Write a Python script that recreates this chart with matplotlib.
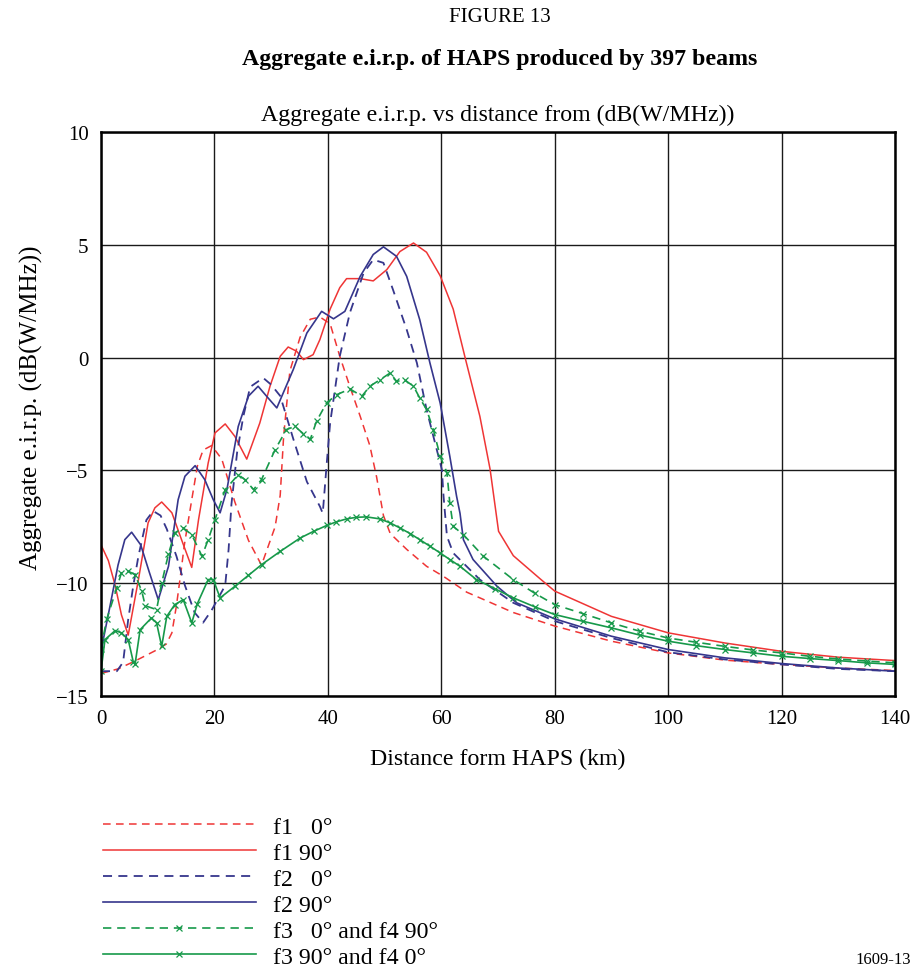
import numpy as np
import matplotlib
matplotlib.use("Agg")
import matplotlib.pyplot as plt

plt.rcParams['font.family'] = ['Liberation Serif', 'DejaVu Serif']

# ---- data (distance km, e.i.r.p. dB(W/MHz)) ----
f1_0_x = [0, 3, 6, 9.5, 11.5, 12.5, 13.3, 14.1, 14.7, 16.0, 17.0, 18.0, 19.5, 21.3, 23.6,
          26.0, 28.3, 30.7, 31.6, 32.2, 33.3, 35.1, 36.9, 38.6, 40.4, 42.1, 43.9, 45.7,
          47.4, 48.6, 49.8, 51.0, 53.9, 57.4, 60.4, 64.5, 66.8, 72.7, 80, 90, 100, 110,
          120, 130, 140]
f1_0_y = [-14.0, -13.8, -13.45, -13.0, -12.7, -12.2, -11.0, -9.5, -8.3, -6.3, -4.8, -4.1,
          -3.9, -4.5, -6.4, -8.1, -9.2, -7.5, -6.1, -3.5, -0.6, 0.9, 1.7, 1.8, 1.5, 0.06,
          -1.3, -2.6, -3.9, -5.3, -7.0, -7.8, -8.5, -9.25, -9.7, -10.4, -10.65, -11.3,
          -11.9, -12.57, -13.09, -13.41, -13.6, -13.76, -13.87]

f1_90_x = [0, 1.3, 2.5, 3.6, 4.8, 6.6, 8.3, 9.5, 10.7, 12.5, 14.2, 16.0, 17.2, 18.9, 20.1,
           21.9, 23.6, 25.7, 28.0, 29.8, 31.6, 33.0, 34.5, 35.7, 37.4, 38.6, 40.4, 42.1,
           43.3, 45.7, 48.0, 50.4, 52.7, 55.1, 57.4, 59.8, 62.1, 64.2, 66.8, 68.6, 70.1,
           72.7, 77.4, 80, 90, 100, 110, 120, 130, 140]
f1_90_y = [-8.3, -9.0, -10.1, -11.4, -12.3, -9.84, -7.33, -6.66, -6.4, -6.88, -8.07, -9.3,
           -7.18, -4.67, -3.34, -2.94, -3.49, -4.5, -2.9, -1.27, 0.06, 0.47, 0.28, -0.09,
           0.13, 0.8, 2.15, 3.1, 3.5, 3.5, 3.4, 3.9, 4.7, 5.08, 4.67, 3.63, 2.15, 0.0,
           -2.6, -4.94, -7.7, -8.78, -9.8, -10.35, -11.47, -12.2, -12.65, -13.02, -13.28,
           -13.43]

f2_0_x = [0, 2.8, 3.9, 4.8, 5.7, 6.6, 8.0, 9.2, 10.5, 11.6, 13.3, 14.8, 16.5, 18.0, 19.5,
          21.9, 22.5, 23.0, 24.0, 25.1, 26.3, 28.6, 30.0, 31.6, 33.9, 36.3, 38.6, 39.1,
          39.8, 40.4, 42.1, 43.9, 46.3, 48.0, 49.8, 51.5, 53.9, 55.7, 57.4, 59.2, 60.1,
          60.4, 61.0, 62.1, 66.8, 72.7, 80, 90, 100, 110, 120, 130, 140]
f2_0_y = [-13.9, -13.9, -13.5, -11.6, -10.1, -8.8, -7.2, -6.8, -7.0, -7.6, -8.8, -10.1,
          -11.3, -11.75, -11.2, -10.1, -8.5, -6.5, -4.2, -2.6, -1.3, -0.9, -1.2, -1.7,
          -3.6, -5.5, -6.6, -6.9, -4.7, -2.9, 0.06, 2.0, 3.75, 4.34, 4.2, 3.0, 1.24,
          -0.24, -2.3, -4.08, -4.96, -6.15, -7.92, -8.66, -9.84, -10.87, -11.68, -12.43,
          -13.06, -13.38, -13.6, -13.8, -13.9]

f2_90_x = [0, 0.4, 1.6, 3.0, 4.2, 5.4, 7.0, 8.5, 10.1, 11.9, 13.6, 14.8, 16.6, 18.3, 19.8,
           21.0, 22.2, 24.2, 26.0, 27.7, 29.5, 31.0, 33.9, 36.3, 38.9, 41.0, 43.0, 45.7,
           48.0, 49.8, 52.1, 53.9, 56.2, 58.0, 59.8, 61.5, 62.7, 63.3, 63.9, 65.6, 69.8,
           73.3, 80, 90, 100, 110, 120, 130, 140]
f2_90_y = [-13.3, -12.5, -11.0, -9.2, -8.07, -7.74, -8.3, -9.5, -10.73, -9.25, -6.3, -5.26,
           -4.79, -5.41, -6.3, -6.88, -5.85, -3.05, -1.71, -1.27, -1.8, -2.23, -0.53, 1.09,
           2.05, 1.72, 2.05, 3.6, 4.57, 4.91, 4.49, 3.6, 1.68, -0.24, -2.01, -4.37, -6.15,
           -6.9, -8.07, -8.95, -10.13, -10.87, -11.58, -12.35, -12.94, -13.31, -13.56,
           -13.76, -13.9]

f3_0_x = [0, 1.0, 2.8, 3.6, 4.8, 6.0, 7.2, 7.8, 9.8, 10.7, 11.9, 13.0, 14.5, 16.0, 17.8,
          18.9, 20.1, 21.9, 24.2, 25.4, 26.9, 28.3, 30.7, 32.7, 34.2, 35.7, 36.9, 38.0,
          39.8, 41.6, 43.9, 46.0, 47.4, 49.2, 51.0, 52.1, 53.6, 55.1, 56.2, 57.4, 58.6,
          59.8, 61.0, 61.5, 62.1, 63.9, 67.4, 72.7, 76.5, 80, 85, 90, 95, 100, 105, 110,
          115, 120, 125, 130, 135, 140]
f3_0_y = [-12.9, -11.6, -10.2, -9.54, -9.47, -9.62, -10.36, -11.0, -11.17, -10.0, -8.7,
          -7.77, -7.55, -7.85, -8.8, -8.07, -7.18, -5.85, -5.19, -5.41, -5.85, -5.41,
          -4.08, -3.19, -3.05, -3.38, -3.63, -2.82, -2.0, -1.64, -1.39, -1.71, -1.27,
          -0.98, -0.68, -1.05, -1.0, -1.27, -1.79, -2.3, -3.19, -4.37, -5.1, -6.44,
          -7.48, -7.85, -8.8, -9.84, -10.45, -10.95, -11.35, -11.76, -12.13, -12.43,
          -12.62, -12.8, -12.96, -13.09, -13.24, -13.36, -13.45, -13.53]

f3_90_x = [0, 0.7, 2.5, 3.6, 4.8, 5.7, 6.0, 6.9, 8.9, 9.8, 10.7, 11.6, 13.0, 14.5, 16.0,
           17.0, 18.9, 19.8, 21.0, 23.6, 26.0, 28.3, 31.6, 35.1, 37.5, 39.8, 41.5, 43.3,
           45.0, 46.8, 49.2, 51.0, 52.7, 54.5, 56.2, 58.0, 59.8, 61.5, 63.3, 66.2, 69.5,
           72.7, 76.5, 80, 85, 90, 95, 100, 105, 110, 115, 120, 125, 130, 135, 140]
f3_90_y = [-13.9, -12.5, -12.1, -12.2, -12.5, -13.5, -13.6, -12.06, -11.54, -11.76, -12.8,
           -11.47, -10.95, -10.73, -11.76, -10.9, -9.84, -9.84, -10.65, -10.14, -9.65,
           -9.18, -8.59, -8.0, -7.7, -7.44, -7.28, -7.15, -7.08, -7.06, -7.15, -7.33,
           -7.55, -7.8, -8.07, -8.36, -8.66, -8.95, -9.25, -9.84, -10.25, -10.65, -11.05,
           -11.39, -11.69, -11.98, -12.3, -12.57, -12.77, -12.94, -13.09, -13.24, -13.34,
           -13.43, -13.53, -13.6]

labels = ["f1   0°", "f1 90°", "f2   0°", "f2 90°", "f3   0° and f4 90°", "f3 90° and f4 0°"]

red = '#ef3535'
blue = '#36368c'
green = '#17994a'
dash = (0, (5, 3.5))

fig = plt.figure(figsize=(9.2, 9.7), dpi=100)
ax = fig.add_axes([101 / 920, 1 - 697 / 970, 794 / 920, 564 / 970])

ax.plot(f1_0_x, f1_0_y, color=red, lw=1.1, ls=dash, label=labels[0])
ax.plot(f1_90_x, f1_90_y, color=red, lw=1.1, label=labels[1])
ax.plot(f2_0_x, f2_0_y, color=blue, lw=1.3, ls=dash, label=labels[2])
ax.plot(f2_90_x, f2_90_y, color=blue, lw=1.2, label=labels[3])
ax.plot(f3_0_x, f3_0_y, color=green, lw=1.2, ls=dash, marker='x', ms=4, mew=0.9,
        label=labels[4])
ax.plot(f3_90_x, f3_90_y, color=green, lw=1.2, marker='x', ms=4, mew=0.9,
        label=labels[5])

ax.set_xlim(0, 140)
ax.set_ylim(-15, 10)
ax.set_xticks(np.arange(0, 141, 20))
ax.set_yticks(np.arange(-15, 11, 5))
ax.grid(True, color='#1a1a1a', lw=1.0)
ax.tick_params(length=0, pad=9, labelsize=15)
for sp in ax.spines.values():
    sp.set_linewidth(1.8)

ax.set_xlabel("Distance form HAPS (km)", fontsize=17.2, labelpad=15)
ax.set_ylabel("Aggregate e.i.r.p. (dB(W/MHz))", fontsize=18)
ax.yaxis.set_label_coords(-0.073, 0.512)
ax.set_title("Aggregate e.i.r.p. vs distance from (dB(W/MHz))", fontsize=17.2, pad=8.5)

fig.text(500 / 920, 1 - 17 / 970, "FIGURE 13", ha='center', va='center', fontsize=15)
fig.text(500 / 920, 1 - 60 / 970, "Aggregate e.i.r.p. of HAPS produced by 397 beams",
         ha='center', va='center', fontsize=17.2, fontweight='bold')
fig.text(855 / 920, 2 / 970, "1609-13", ha='left', va='bottom', fontsize=12)

fig.legend(loc='upper left', bbox_to_anchor=(103 / 920, 1 - 817 / 970), frameon=False,
           fontsize=17.2, handlelength=6.4, handletextpad=0.7, labelspacing=0.18,
           borderpad=0, borderaxespad=0, numpoints=1)

fig.savefig("out.png", dpi=100)
